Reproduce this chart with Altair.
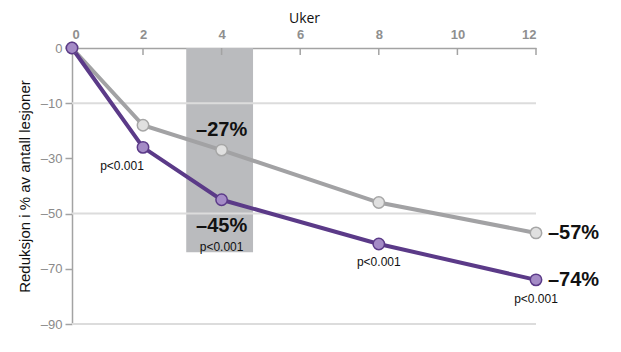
import altair as alt
import pandas as pd

# ---- data ----
weeks = [0, 2, 4, 8, 12]
placebo_vals = [0, -18, -27, -46, -57]
treat_vals = [0, -26, -45, -61, -74]
x_ticks = [0, 2, 4, 6, 8, 10, 12]
y_ticks = [0, -10, -30, -50, -70, -90]
grid_vals = [-10, -50, -90]
band_weeks = [3.1, 4.8]
band_vals = [0, -64]

W, H = 464, 276
FONT = "Liberation Sans"

df = pd.DataFrame(
    {
        "week": weeks * 2,
        "value": placebo_vals + treat_vals,
        "series": ["placebo"] * len(weeks) + ["treat"] * len(weeks),
    }
)
df_treat = pd.DataFrame({"week": weeks, "value": treat_vals})
df_plac = pd.DataFrame({"week": weeks, "value": placebo_vals})

xscale = alt.Scale(domain=[0, 2, 12], range=[0, 71, W], nice=False, zero=False)
yscale = alt.Scale(
    domain=[-90, -70, -50, -30, -10, 0],
    range=[H, H * 4 / 5, H * 3 / 5, H * 2 / 5, H / 5, 0],
    nice=False,
    zero=False,
)

x_enc = alt.X(
    "week:Q",
    scale=xscale,
    axis=alt.Axis(
        orient="top",
        values=x_ticks,
        tickSize=0,
        labelPadding=7,
        labelFont=FONT,
        labelFontSize=13,
        labelFontWeight="bold",
        labelColor="#8f8f8f",
        domainColor="#a3a3a3",
        domainWidth=1.5,
        grid=False,
        title="Uker",
        titleFont="Open Sans",
        titleFontSize=14,
        titleFontWeight="normal",
        titleColor="#111111",
        titlePadding=3,
    ),
)
y_enc = alt.Y(
    "value:Q",
    scale=yscale,
    axis=alt.Axis(
        orient="left",
        values=y_ticks,
        tickSize=7,
        tickWidth=1.5,
        tickColor="#a3a3a3",
        labelPadding=3,
        labelFont=FONT,
        labelFontSize=13,
        labelFontWeight="normal",
        labelColor="#8a8a8a",
        labelExpr="datum.value == 0 ? '0' : '–' + abs(datum.value)",
        domainColor="#a3a3a3",
        domainWidth=1.5,
        grid=False,
        title="Reduksjon i % av antall lesjoner",
        titleFont=FONT,
        titleFontSize=15,
        titleFontWeight="normal",
        titleColor="#111111",
        titlePadding=8,
    ),
)

band = (
    alt.Chart(pd.DataFrame({"x": [band_weeks[0]], "x2": [band_weeks[1]], "y": [band_vals[0]], "y2": [band_vals[1]]}))
    .mark_rect(color="#babbbe")
    .encode(x=alt.X("x:Q", scale=xscale), x2="x2:Q", y=alt.Y("y:Q", scale=yscale), y2="y2:Q")
)

grid = (
    alt.Chart(pd.DataFrame({"v": grid_vals, "x": [0] * 3, "x2": [12] * 3}))
    .mark_rule(color="#dcdcdc", strokeWidth=2)
    .encode(x=alt.X("x:Q", scale=xscale), x2="x2:Q", y=alt.Y("v:Q", scale=yscale))
)

TICK_LEN = 1.27
xt = pd.DataFrame({"w": x_ticks[1:], "y": [0] * 6, "y2": [-TICK_LEN] * 6})
xticks = (
    alt.Chart(xt)
    .mark_rule(color="#a3a3a3", strokeWidth=1.5)
    .encode(x=alt.X("w:Q", scale=xscale), y=alt.Y("y:Q", scale=yscale), y2="y2:Q")
)

colors = alt.Scale(domain=["placebo", "treat"], range=["#a2a2a4", "#5b3a88"])
lines = (
    alt.Chart(df)
    .mark_line(strokeWidth=4)
    .encode(x=x_enc, y=y_enc, color=alt.Color("series:N", scale=colors, legend=None), detail="series:N")
)

pts_plac = (
    alt.Chart(df_plac)
    .mark_point(filled=True, size=130, fill="#e0e0e0", stroke="#a6a6a6", strokeWidth=1.5, opacity=1)
    .encode(x=alt.X("week:Q", scale=xscale), y=alt.Y("value:Q", scale=yscale))
)
pts_treat = (
    alt.Chart(df_treat)
    .mark_point(filled=True, size=130, fill="#a48bc6", stroke="#5b3a88", strokeWidth=1.5, opacity=1)
    .encode(x=alt.X("week:Q", scale=xscale), y=alt.Y("value:Q", scale=yscale))
)


def label(week, value, text, size, bold, dx, dy, align="center"):
    d = pd.DataFrame({"week": [week], "value": [value], "t": [text]})
    return (
        alt.Chart(d)
        .mark_text(
            font=FONT,
            fontSize=size,
            fontWeight="bold" if bold else "normal",
            color="#111111",
            dx=dx,
            dy=dy,
            align=align,
            baseline="middle",
        )
        .encode(x=alt.X("week:Q", scale=xscale), y=alt.Y("value:Q", scale=yscale), text="t:N")
    )


texts = [
    label(4, placebo_vals[2], "–27%", 20, True, 0, -20),
    label(4, treat_vals[2], "–45%", 20, True, 0, 26),
    label(4, treat_vals[2], "p<0.001", 12, False, 0, 47),
    label(2, treat_vals[1], "p<0.001", 12, False, -21, 19),
    label(8, treat_vals[3], "p<0.001", 12, False, 0, 18),
    label(12, treat_vals[4], "p<0.001", 12, False, 0, 19),
    label(12, placebo_vals[4], "–57%", 20, True, 12, 0, "left"),
    label(12, treat_vals[4], "–74%", 20, True, 12, 0, "left"),
]

chart = (
    alt.layer(band, grid, xticks, lines, pts_plac, pts_treat, *texts)
    .properties(
        width=W,
        height=H,
        autosize=alt.AutoSizeParams(type="none"),
        padding={"left": 72, "top": 48, "right": 85, "bottom": 28},
        background="white",
    )
    .configure_view(stroke=None)
)

chart.save("out.html", embed_options={"renderer": "svg", "actions": False})
